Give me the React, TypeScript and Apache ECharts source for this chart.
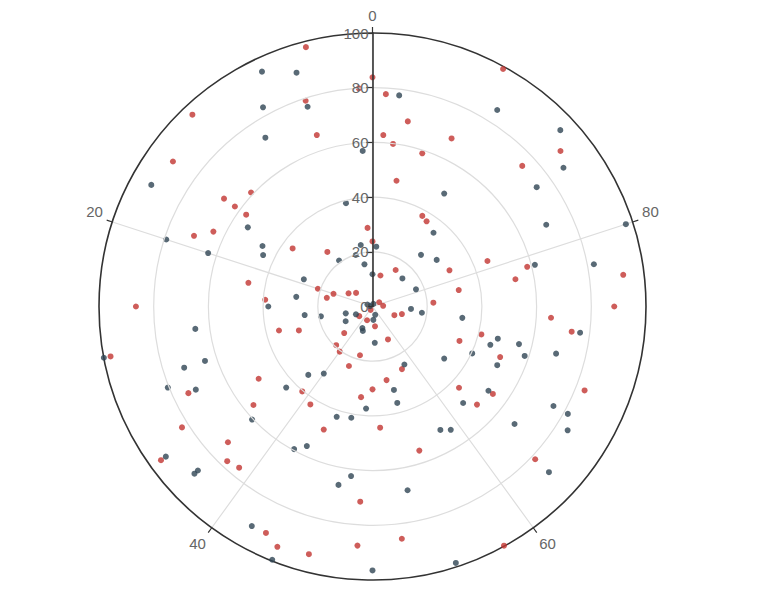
import { useEffect, useRef } from "react";
import * as echarts from "echarts";

// [radius, angle] pairs
const redPoints: [number, number][] = [
  [97.9, 4], [83.8, 0], [79.9, 1], [79.1, 5], [96.2, 12], [65.9, 5], [90.2, 15], [60.9, 13],
  [67.1, 15], [62.2, 15], [57.1, 15], [28.8, 1], [64.3, 18], [70.2, 19], [23.8, 0], [36.1, 15],
  [25.9, 11], [11.7, 96], [46.2, 22], [21.0, 20], [15.0, 20], [10.0, 17], [7.8, 14], [17.0, 22],
  [39.3, 24], [86.5, 25], [99.1, 92], [77.8, 99], [68.9, 97], [62.8, 99], [67.9, 93], [59.9, 98],
  [89.2, 86], [58.9, 95], [75.1, 87], [46.8, 97], [37.8, 92], [36.9, 91], [45.2, 81], [58.4, 79],
  [31.1, 82], [15.8, 91], [92.4, 77], [53.2, 78], [32.1, 78], [22.3, 76], [88.4, 75], [2.9, 84],
  [3.9, 76], [1.4, 42], [6.0, 35], [5.4, 44], [7.3, 52], [8.6, 69], [11.1, 71], [97.5, 28],
  [35.3, 29], [28.3, 30], [14.2, 37], [19.4, 38], [20.4, 40], [18.4, 46], [23.4, 44], [49.3, 34],
  [74.4, 32], [40.3, 39], [30.3, 50], [33.4, 48], [56.5, 36], [42.4, 41], [82.5, 34], [48.4, 44],
  [44.4, 51], [72.5, 37], [77.6, 38], [76.5, 39], [95.6, 35], [71.5, 49], [91.5, 43], [94.5, 44],
  [93.5, 46], [87.6, 49], [65.4, 74], [73.4, 73], [13.3, 57], [41.1, 71], [34.2, 69], [50.2, 69],
  [25.3, 57], [27.4, 53], [43.4, 63], [54.4, 65], [83.4, 69], [52.4, 63], [55.4, 55], [81.6, 63],
  [85.6, 52], [99.8, 58],
];

const darkPoints: [number, number][] = [
  [94.9, 7], [89.9, 5], [83.1, 8], [76.8, 5], [73.1, 9], [57.0, 1], [92.3, 17], [39.0, 4],
  [54.0, 16], [79.3, 20], [22.9, 3], [21.9, 99], [45.9, 17], [63.2, 20], [44.2, 18], [19.8, 5],
  [20.8, 10], [15.7, 3], [11.8, 0], [27.0, 19], [28.1, 23], [38.1, 25], [2.0, 19], [77.8, 98],
  [85.1, 91], [94.2, 87], [86.3, 85], [74.2, 85], [48.9, 91], [70.2, 82], [97.4, 80], [35.0, 89],
  [25.9, 88], [29.0, 85], [82.4, 78], [61.3, 79], [15.0, 87], [17.1, 81], [14.1, 74], [0.9, 22],
  [1.0, 95], [25.0, 27], [19.2, 28], [10.1, 29], [11.2, 33], [6.7, 32], [3.2, 55], [4.9, 51],
  [8.7, 43], [9.6, 44], [65.3, 27], [13.3, 51], [100, 28], [64.4, 30], [72.4, 30], [34.3, 38],
  [30.3, 40], [80.5, 31], [71.4, 32], [43.3, 37], [37.4, 49], [60.4, 37], [42.4, 45], [41.4, 47],
  [59.5, 42], [56.4, 43], [93.4, 35], [87.6, 37], [89.3, 37], [62.5, 48], [66.4, 47], [91.6, 42],
  [99.6, 44], [96.5, 50], [18.2, 73], [33.1, 73], [76.5, 73], [47.3, 71], [45.3, 70], [55.3, 71],
  [40.3, 68], [58.5, 70], [69.3, 71], [32.4, 65], [50.4, 68], [24.2, 58], [31.5, 54], [52.4, 65],
  [36.4, 54], [48.4, 62], [75.5, 67], [81.5, 67], [51.5, 58], [53.4, 59], [67.4, 64], [84.5, 66],
  [88.5, 63], [68.4, 53], [98.6, 55],
];

const axisMax = 100;
const axisStep = 20;

export default function App() {
  const chartRef = useRef<HTMLDivElement>(null);

  useEffect(() => {
    if (!chartRef.current) return;
    const chart = echarts.init(chartRef.current, undefined, { renderer: "svg" });
    const labelStyle = { color: "#666", fontSize: 15, fontFamily: "sans-serif" };
    chart.setOption({
      animation: false,
      backgroundColor: "#fff",
      polar: { center: [372.5, 306.5], radius: 273.5 },
      angleAxis: {
        type: "value",
        min: 0,
        max: axisMax,
        interval: axisStep,
        startAngle: 90,
        clockwise: false,
        axisLine: { lineStyle: { color: "#333", width: 1.6 } },
        axisTick: { show: true, length: 6, lineStyle: { color: "#333", width: 1.2 } },
        axisLabel: { ...labelStyle, margin: 10 },
        splitLine: { show: true, lineStyle: { color: "#ddd", width: 1.2 } },
      },
      radiusAxis: {
        type: "value",
        min: 0,
        max: axisMax,
        interval: axisStep,
        z: 10,
        axisLine: { lineStyle: { color: "#333", width: 1.6 } },
        axisTick: { show: true, length: 6, lineStyle: { color: "#333", width: 1.2 } },
        axisLabel: { ...labelStyle, margin: 4 },
        splitLine: {
          show: true,
          lineStyle: { color: ["#ddd", "#ddd", "#ddd", "#ddd", "#ddd", "transparent"], width: 1.2 },
        },
      },
      series: [
        {
          type: "scatter",
          coordinateSystem: "polar",
          symbolSize: 6,
          itemStyle: { color: "#c23531" },
          data: redPoints,
        },
        {
          type: "scatter",
          coordinateSystem: "polar",
          symbolSize: 6,
          itemStyle: { color: "#2f4554" },
          data: darkPoints,
        },
      ],
    });
    return () => chart.dispose();
  }, []);

  return (
    <div
      ref={chartRef}
      style={{ position: "absolute", left: 0, top: 0, width: 759, height: 610 }}
    />
  );
}
